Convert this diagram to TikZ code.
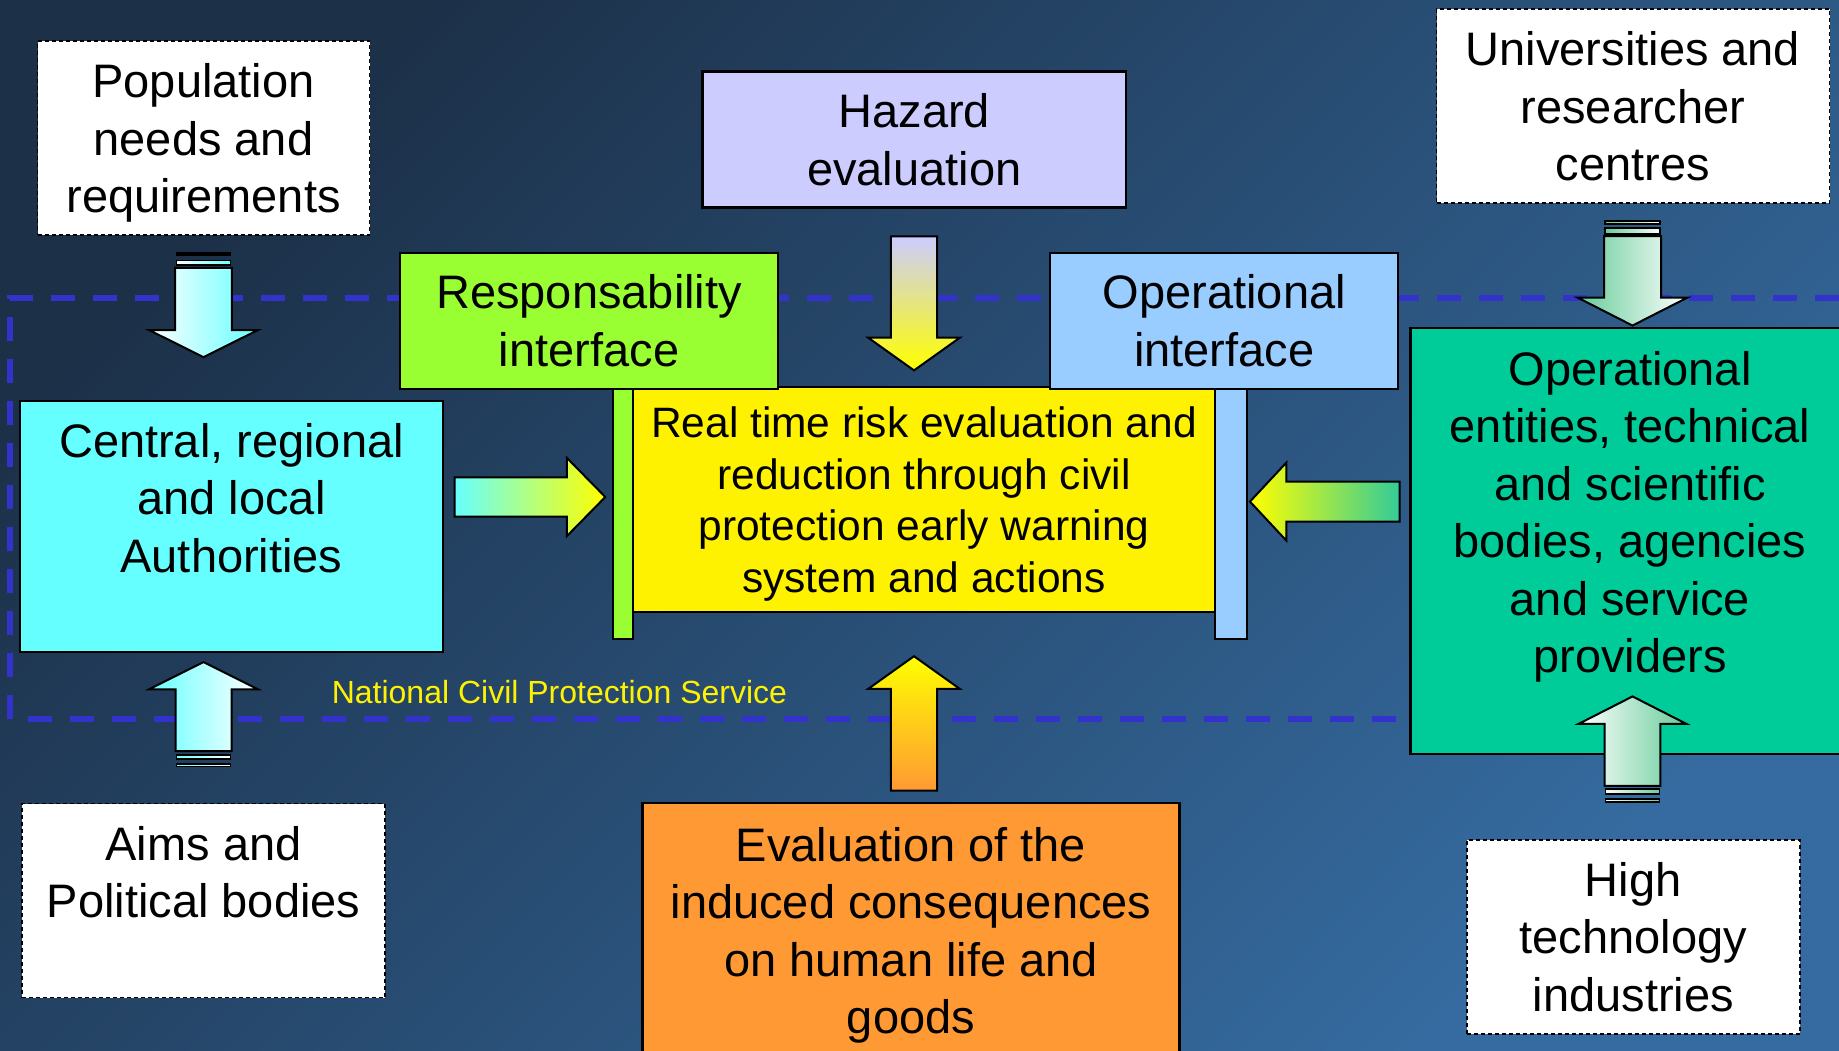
\documentclass[tikz,border=0pt]{standalone}
\usepackage{fontspec}
\setmainfont{Liberation Sans}
\usetikzlibrary{shapes.arrows}

\definecolor{bgdark}{HTML}{1C3048}
\definecolor{bglight}{HTML}{356BA0}
\definecolor{frameblue}{HTML}{3333CC}
\definecolor{lavender}{HTML}{CCCCFF}
\definecolor{limegreen}{HTML}{99FF33}
\definecolor{skyblue}{HTML}{99CCFF}
\definecolor{aqua}{HTML}{66FFFF}
\definecolor{seagreen}{HTML}{00CC99}
\definecolor{mint}{HTML}{66CC99}
\definecolor{jade}{HTML}{33CC99}
\definecolor{orangebox}{HTML}{FF9933}

\begin{document}
\begin{tikzpicture}[x=1pt, y=-1pt,
    box/.style={rectangle, draw=black, line width=2.2pt, inner sep=0pt, align=center,
        font=\fontsize{47}{57.5}\selectfont},
    dashbox/.style={box, fill=white, line width=1.6pt, dash pattern=on 4pt off 3pt},
    bar/.style={rectangle, draw=black, line width=2pt, inner sep=0pt},
    blockarrow/.style={single arrow, draw=black, line width=2pt,
        single arrow head indent=0pt, anchor=tip},
    tailbar/.style={rectangle, draw=black, line width=1.6pt, inner sep=0pt}]
        % Background
        \path[use as bounding box] (0,0) rectangle (1839,1051);
        \shade[top color=bgdark, bottom color=bglight, shading angle=45] (0,0) rectangle (1839,1051);
        \clip (0,0) rectangle (1839,1051);
        \draw[frameblue, line width=6pt, dash pattern=on 24pt off 18pt]
            (1839,298) -- (10,298) -- (10,719) -- (1839,719);

        % Nodes
        \node (pop) [dashbox, minimum width=332pt, minimum height=194pt] at (203.5,138) {Population\\needs and\\\smash{requirements}};
        \node (univ) [dashbox, minimum width=393pt, minimum height=194pt] at (1633,106.3) {Universities and\\researcher\\centres};
        \node (aims) [dashbox, minimum width=363pt, minimum height=194pt] at (203.6,900.6) {Aims and\\Political bodies\\~};
        \node (hitech) [dashbox, minimum width=333pt, minimum height=194pt] at (1633.3,937) {High\\technology\\industries};
        \node (hazard) [box, fill=lavender, minimum width=423.5pt, minimum height=136pt] at (914.2,139.5) {Hazard\\evaluation};
        \node (resbar) [bar, fill=limegreen, minimum width=20pt, minimum height=250pt] at (622.7,513.9) {};
        \node (opbar) [bar, fill=skyblue, minimum width=32pt, minimum height=250pt] at (1231,513.9) {};
        \node (risk) [box, fill=yellow, font=\fontsize{42.5}{51.6}\selectfont, minimum width=582pt, minimum height=225pt] at (924,499.5) {Real time risk evaluation and\\reduction through civil\\protection early warning\\\smash{system and actions}};
        \node (resp) [box, fill=limegreen, minimum width=378pt, minimum height=136pt] at (589.1,320.9) {Responsability\\interface};
        \node (opint) [box, fill=skyblue, minimum width=348pt, minimum height=136pt] at (1224.3,320.9) {Operational\\interface};
        \node (central) [box, fill=aqua, minimum width=423pt, minimum height=251.5pt] at (231.5,526.5) {Central, regional\\and local\\Authorities\\~};
        \node (openti) [box, fill=seagreen, minimum width=439pt, minimum height=425.7pt] at (1630,540.9) {Operational\\entities, technical\\and scientific\\bodies, agencies\\and service\\providers\\~};
        \node (evalc) [box, fill=orangebox, minimum width=537pt, minimum height=312.8pt] at (911,959.4) {Evaluation of the\\induced consequences\\on human life and\\goods\\~};
        \node (natlabel) [text=yellow, inner sep=0pt, anchor=west, font=\fontsize{32}{38}\selectfont] at (331.6,692) {National Civil Protection Service};

        % Arrows
        \node (popA) [blockarrow, shape border rotate=270, left color=white, right color=aqua, inner sep=27.3pt, minimum width=107pt, minimum height=89.3pt, single arrow head extend=26.2pt, single arrow tip angle=127] at (203.5,358.3) {};
        \node (popS1) [tailbar, left color=white, right color=aqua, minimum width=54pt, minimum height=1.8pt] at (203.5,254) {};
        \node (popS2) [tailbar, left color=white, right color=aqua, minimum width=54pt, minimum height=4.4pt] at (203.5,262.7) {};

        \node (aimsA) [blockarrow, shape border rotate=90, left color=aqua, right color=white, inner sep=27pt, minimum width=107pt, minimum height=89pt, single arrow head extend=26.5pt, single arrow tip angle=127] at (203.5,661) {};
        \node (aimsS1) [tailbar, left color=aqua, right color=white, minimum width=54pt, minimum height=4.4pt] at (203.5,757) {};
        \node (aimsS2) [tailbar, left color=aqua, right color=white, minimum width=54pt, minimum height=2.4pt] at (203.5,765.3) {};

        \node (uniA) [blockarrow, shape border rotate=270, left color=mint, right color=white, inner sep=27.5pt, minimum width=107.7pt, minimum height=89.4pt, single arrow head extend=26.4pt, single arrow tip angle=126] at (1632.5,326.7) {};
        \node (uniS1) [tailbar, left color=mint, right color=white, minimum width=55pt, minimum height=3.1pt] at (1632.5,222.3) {};
        \node (uniS2) [tailbar, left color=mint, right color=white, minimum width=55pt, minimum height=5.8pt] at (1632.5,231) {};

        \node (hitA) [blockarrow, shape border rotate=90, left color=white, right color=mint, inner sep=26.8pt, minimum width=106pt, minimum height=89.5pt, single arrow head extend=26.2pt, single arrow tip angle=126] at (1632.5,695.3) {};
        \node (hitS1) [tailbar, left color=white, right color=mint, minimum width=54pt, minimum height=4.6pt] at (1632.5,791.5) {};
        \node (hitS2) [tailbar, left color=white, right color=mint, minimum width=54pt, minimum height=2.8pt] at (1632.5,800.3) {};

        \node (hazA) [blockarrow, shape border rotate=270, top color=lavender, bottom color=yellow, inner sep=22.2pt, minimum width=89.6pt, minimum height=133.9pt, single arrow head extend=22.6pt, single arrow tip angle=109] at (914,371.6) {};
        \node (evalA) [blockarrow, shape border rotate=90, top color=yellow, bottom color=orangebox, inner sep=22.2pt, minimum width=89.6pt, minimum height=134.5pt, single arrow head extend=22.6pt, single arrow tip angle=109] at (914,655) {};
        \node (centA) [blockarrow, left color=aqua, right color=yellow, inner sep=18.7pt, minimum width=76pt, minimum height=150.7pt, single arrow head extend=19.3pt, single arrow tip angle=91] at (606.7,497) {};
        \node (opA) [blockarrow, shape border rotate=180, left color=yellow, right color=jade, inner sep=18.9pt, minimum width=75.8pt, minimum height=149.7pt, single arrow head extend=19pt, single arrow tip angle=94] at (1248.6,501.6) {};
    \end{tikzpicture}
\end{document}
